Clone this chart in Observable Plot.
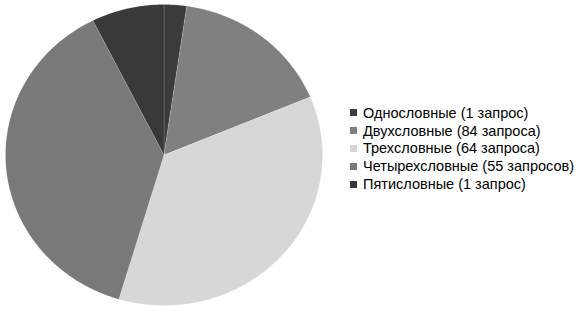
<!DOCTYPE html>
<html>
<head>
<meta charset="utf-8">
<script src="https://cdn.jsdelivr.net/npm/d3@7"></script>
<script src="https://cdn.jsdelivr.net/npm/@observablehq/plot@0.6"></script>
<style>
  html, body { margin: 0; padding: 0; background: #fff; }
  #wrap { position: relative; width: 577px; height: 313px; overflow: hidden; font-family: "Liberation Sans", Arial, sans-serif; }
  #chart { position: absolute; left: 0; top: 0; }
  #legend { position: absolute; left: 350px; top: 104px; }
  .row { display: flex; align-items: center; height: 17.8px; font-size: 14.5px; color: #000; white-space: nowrap; }
  .sw { width: 7px; height: 7px; margin-right: 6px; flex: none; }
</style>
</head>
<body>
<div id="wrap">
  <div id="chart"></div>
  <div id="legend"></div>
</div>
<script>
// Query groups by number of words
const categories = ["Однословные", "Двухсловные", "Трехсловные", "Четырехсловные", "Пятисловные"];
// Number of queries in each group (shown in the legend)
const queryCounts = [1, 84, 64, 55, 1];
const countLabels = ["1 запрос", "84 запроса", "64 запроса", "55 запросов", "1 запрос"];
// Share of each group in the pie, percent
const shares = [2.3, 16.4, 35.9, 38.0, 7.4];
const colors = ["#3b3b3b", "#808080", "#d7d7d7", "#797979", "#393939"];

// Build each slice outline (centre + arc) in unit coordinates, clockwise from 12 o'clock
const total = d3.sum(shares);
const outline = [];
let start = 0;
shares.forEach((v, i) => {
  const a0 = start / total * 2 * Math.PI;
  const a1 = (start + v) / total * 2 * Math.PI;
  start += v;
  const steps = Math.max(2, Math.ceil((a1 - a0) / (Math.PI / 360)));
  outline.push({cat: categories[i], x: 0, y: 0});
  for (let k = 0; k <= steps; k++) {
    const a = a0 + (a1 - a0) * k / steps;
    outline.push({cat: categories[i], x: Math.sin(a), y: Math.cos(a)});
  }
  outline.push({cat: categories[i], x: 0, y: 0});
});

const chart = Plot.plot({
  width: 330,
  height: 313,
  marginLeft: 5,
  marginRight: 8,
  marginTop: 4,
  marginBottom: 8,
  x: {domain: [-1, 1], axis: null},
  y: {domain: [-1, 1], axis: null},
  color: {domain: categories, range: colors},
  marks: [
    Plot.line(outline, {
      x: "x", y: "y", z: "cat",
      fill: "cat",
      stroke: "#ffffff", strokeOpacity: 0.25, strokeWidth: 0.6,
      curve: "linear"
    })
  ]
});
document.getElementById("chart").appendChild(chart);

// Legend
const legend = document.getElementById("legend");
categories.forEach((c, i) => {
  const row = document.createElement("div");
  row.className = "row";
  const sw = document.createElement("span");
  sw.className = "sw";
  sw.style.background = colors[i];
  const t = document.createElement("span");
  t.textContent = `${c} (${countLabels[i]})`;
  row.appendChild(sw);
  row.appendChild(t);
  legend.appendChild(row);
});
</script>
</body>
</html>
